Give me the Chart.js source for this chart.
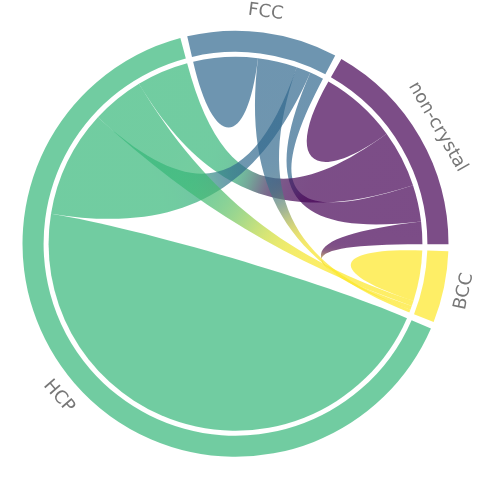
<!DOCTYPE html>
<html>
<head>
<meta charset="utf-8">
<script src="https://cdn.jsdelivr.net/npm/chart.js@4.4.1/dist/chart.umd.min.js"></script>
<style>
  html, body { margin: 0; padding: 0; background: #ffffff; }
  #wrap { position: relative; width: 479px; height: 481px; }
</style>
</head>
<body>
<div id="wrap"><canvas id="chart"></canvas></div>
<script>
// Node categories, clockwise from the top
const categories = ['FCC', 'non-crystal', 'BCC', 'HCP'];
// Flow sizes from each category towards [FCC, non-crystal, BCC, HCP]
const flowsFCC        = [20.0,  4.3, 12.2,   4.5];
const flowsNonCrystal = [11.4, 24.1,  7.0,  17.8];
const flowsBCC        = [ 0.9,  1.2, 15.7,   1.7];
const flowsHCP        = [33.3, 16.1, 16.3, 165.8];
// viridis colours of the categories
const baseColors = ['#31688e', '#440154', '#fde725', '#35b779'];
const gapSize = 1.9;

const flows = [flowsFCC, flowsNonCrystal, flowsBCC, flowsHCP];
const totals = flows.map(r => r.reduce((a, b) => a + b, 0));

function hexRgb(hex) {
  const n = parseInt(hex.slice(1), 16);
  return [(n >> 16) & 255, (n >> 8) & 255, n & 255];
}
function rgba(hex, a) {
  const c = hexRgb(hex);
  return 'rgba(' + c[0] + ',' + c[1] + ',' + c[2] + ',' + a + ')';
}
function mixRgba(hex1, hex2, z, a) {
  const c1 = hexRgb(hex1), c2 = hexRgb(hex2);
  const c = c1.map((v, i) => Math.round(v + (c2[i] - v) * z));
  return 'rgba(' + c[0] + ',' + c[1] + ',' + c[2] + ',' + a + ')';
}

// ring data: each category followed by a blank gap
const ringValues = [], ringColors = [], ringLabels = [];
categories.forEach((c, i) => {
  ringValues.push(totals[i]); ringColors.push(rgba(baseColors[i], 0.7)); ringLabels.push(c);
  ringValues.push(gapSize); ringColors.push('rgba(0,0,0,0)'); ringLabels.push('');
});

const chordPlugin = {
  id: 'chords',
  afterDatasetsDraw(chart) {
    const ctx = chart.ctx;
    const meta = chart.getDatasetMeta(0);
    const nodeArcs = categories.map((c, i) => meta.data[2 * i]);
    const cx = nodeArcs[0].x, cy = nodeArcs[0].y;
    const R = nodeArcs[0].innerRadius - 5;
    const kChord = 0.3, kSelf = 0.51;
    const pt = (r, a) => [cx + r * Math.cos(a), cy + r * Math.sin(a)];

    // sub-arcs: inside each node, targets ordered by decreasing size (clockwise)
    const sub = categories.map(() => []);
    categories.forEach((c, i) => {
      const arc = nodeArcs[i];
      const scale = (arc.endAngle - arc.startAngle) / totals[i];
      const order = flows[i].map((v, j) => j).sort((a, b) => flows[i][b] - flows[i][a]);
      let a = arc.startAngle;
      order.forEach(j => {
        const w = flows[i][j] * scale;
        sub[i][j] = [a, a + w];
        a += w;
      });
    });

    const drawOrder = [1, 0, 3, 2];
    drawOrder.forEach((i, oi) => {
      drawOrder.forEach((j, oj) => {
        if (oj < oi) return;
        const [s1, e1] = sub[i][j];
        ctx.save();
        if (i === j) {
          ctx.beginPath();
          ctx.arc(cx, cy, R, s1, e1);
          const c1 = pt(kSelf * R, e1), c2 = pt(kSelf * R, s1), p = pt(R, s1);
          ctx.bezierCurveTo(c1[0], c1[1], c2[0], c2[1], p[0], p[1]);
          ctx.closePath();
          ctx.fillStyle = rgba(baseColors[i], 0.7);
          ctx.fill();
          ctx.restore();
          return;
        }
        const [s2, e2] = sub[j][i];
        ctx.beginPath();
        ctx.arc(cx, cy, R, s1, e1);
        let c1 = pt(kChord * R, e1), c2 = pt(kChord * R, s2), p = pt(R, s2);
        ctx.bezierCurveTo(c1[0], c1[1], c2[0], c2[1], p[0], p[1]);
        ctx.arc(cx, cy, R, s2, e2);
        c1 = pt(kChord * R, e2); c2 = pt(kChord * R, s1); p = pt(R, s1);
        ctx.bezierCurveTo(c1[0], c1[1], c2[0], c2[1], p[0], p[1]);
        ctx.closePath();
        // colour changes across the bisector of the two chord ends, softened
        const m1 = pt(R, (s1 + e1) / 2), m2 = pt(R, (s2 + e2) / 2);
        const D = Math.hypot(m2[0] - m1[0], m2[1] - m1[1]);
        const sigma = Math.max(0.03 * R, 0.2 * R * Math.min((D / R) * (D / R) / 4, 1));
        const su = sigma / D;
        const g = ctx.createLinearGradient(m1[0], m1[1], m2[0], m2[1]);
        g.addColorStop(0, rgba(baseColors[i], 0.7));
        for (let s = -3; s <= 3.001; s += 0.25) {
          const u = 0.5 + s * su;
          if (u <= 0 || u >= 1) continue;
          const z = 1 / (1 + Math.exp(-1.702 * s));
          g.addColorStop(u, mixRgba(baseColors[i], baseColors[j], z, 0.7));
        }
        g.addColorStop(1, rgba(baseColors[j], 0.7));
        ctx.fillStyle = g;
        ctx.fill();
        ctx.restore();
      });
    });

    // category names around the ring
    ctx.save();
    ctx.fillStyle = '#777777';
    ctx.font = '18px "DejaVu Sans", sans-serif';
    ctx.textAlign = 'center';
    ctx.textBaseline = 'middle';
    categories.forEach((c, i) => {
      const arc = nodeArcs[i];
      const m = (arc.startAngle + arc.endAngle) / 2;
      let theta = (m + Math.PI / 2) % (2 * Math.PI);
      if (theta < 0) theta += 2 * Math.PI;
      const rot = (theta > Math.PI / 2 && theta < 3 * Math.PI / 2) ? theta - Math.PI : theta;
      const p = pt(arc.outerRadius + 20.5, m);
      ctx.save();
      ctx.translate(p[0], p[1]);
      ctx.rotate(rot);
      ctx.fillText(c, 0, 0);
      ctx.restore();
    });
    ctx.restore();
  }
};

new Chart(document.getElementById('chart'), {
  type: 'doughnut',
  data: {
    labels: ringLabels,
    datasets: [{
      data: ringValues,
      backgroundColor: ringColors,
      borderWidth: 0,
      hoverOffset: 0
    }]
  },
  options: {
    responsive: true,
    maintainAspectRatio: false,
    animation: false,
    events: [],
    rotation: -13.1,
    cutout: '90.1%',
    layout: { padding: { left: 22.5, right: 30.5, top: 30.8, bottom: 24.2 } },
    plugins: { legend: { display: false }, tooltip: { enabled: false } }
  },
  plugins: [chordPlugin]
});
</script>
</body>
</html>
